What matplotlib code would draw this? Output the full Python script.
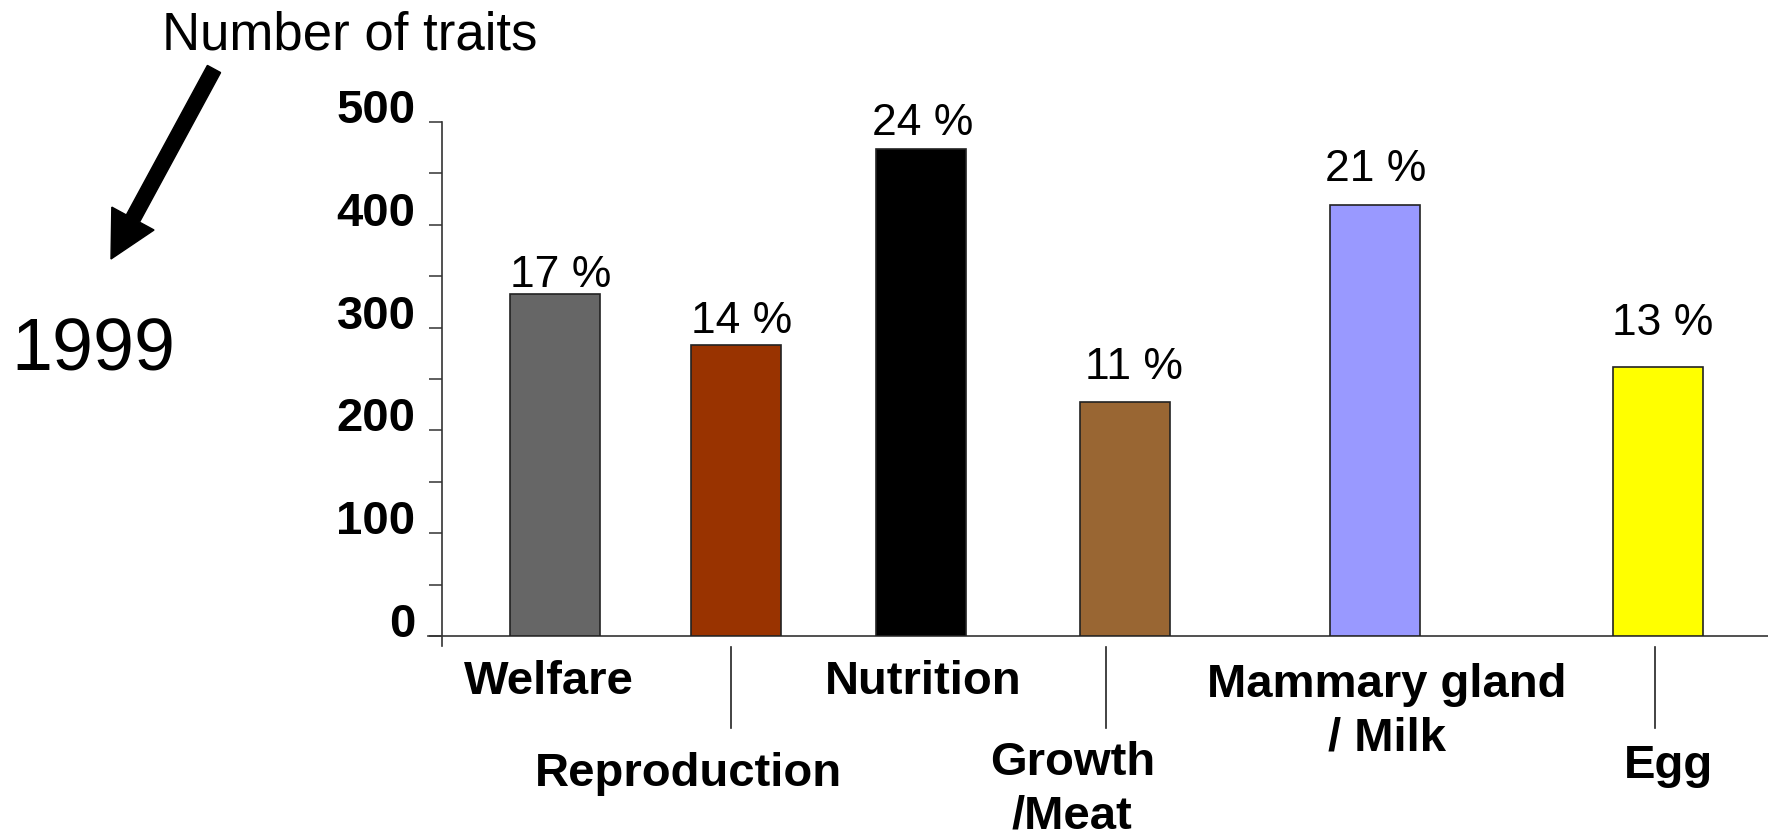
import matplotlib.pyplot as plt
from matplotlib.patches import FancyArrow
from matplotlib.ticker import MultipleLocator

plt.rcParams['font.family'] = ['Liberation Sans', 'DejaVu Sans']

categories = ['Welfare', 'Reproduction', 'Nutrition', 'Growth\n/Meat',
              'Mammary gland\n/ Milk', 'Egg']
traits = [333, 283, 474, 228, 419, 262]
percents = [17, 14, 24, 11, 21, 13]
colors = ['#666666', '#993300', '#000000', '#996633', '#9999ff', '#ffff00']

# layout: bar centres, label centres and label rows (data units)
bar_x = [1.0, 2.605, 4.25, 6.055, 8.275, 10.785]
label_x = [0.95, 2.19, 4.27, 5.59, 8.38, 10.88]
label_y = [-44, -133, -44, -149, -73, -126]
pct_dx = [6, 6, 1, 9, 1, 5]
pct_dy = [19, 25, 26, 35, 37, 44]
sep_x = [2.56, 5.89, 10.76]

fig = plt.figure(figsize=(17.68, 8.37), dpi=100)
ax = fig.add_axes([0.25, 0.239, 0.75, 0.614])

ax.bar(bar_x, traits, width=0.8, color=colors, edgecolor='#222222',
       linewidth=1.2, zorder=3)

for x, v, p, dx, dy in zip(bar_x, traits, percents, pct_dx, pct_dy):
    ax.annotate(f'{p} %', xy=(x, v), xytext=(dx, dy),
                textcoords='offset pixels', ha='center', va='center',
                fontsize=32)

for x, y, c in zip(label_x, label_y, categories):
    ax.text(x, y, c, ha='center', va='center', fontsize=34,
            fontweight='bold', linespacing=1.28, clip_on=False)

for x in sep_x:
    ax.plot([x, x], [-11, -90], color='#222222', lw=1.2, clip_on=False)

ax.set_xlim(0, 11.76)
ax.set_ylim(0, 500)
ax.spines['top'].set_visible(False)
ax.spines['right'].set_visible(False)
ax.spines['left'].set_bounds(-10, 500)
ax.spines['bottom'].set_bounds(-0.12, 11.76)
for s in ('left', 'bottom'):
    ax.spines[s].set_color('#333333')
    ax.spines[s].set_linewidth(1.2)

ax.set_xticks([])
ax.yaxis.set_major_locator(MultipleLocator(100))
ax.yaxis.set_minor_locator(MultipleLocator(50))
ax.tick_params(axis='y', which='both', direction='out', length=9.5,
               width=1.1, color='#333333', pad=9.5)
ax.set_yticks(range(0, 501, 100))
ax.set_yticklabels([str(v) for v in range(0, 501, 100)], fontsize=34,
                   fontweight='bold', va='baseline')

fig.text(0.198, 0.957, 'Number of traits', ha='center', va='center',
         fontsize=38)
fig.text(0.0526, 0.581, '1999', ha='center', va='center', fontsize=53)

arrow = FancyArrow(2.14, 7.67, 1.11 - 2.14, 5.77 - 7.67, width=0.15,
                   head_width=0.48, head_length=0.46,
                   length_includes_head=True, color='black',
                   transform=fig.dpi_scale_trans)
fig.patches.append(arrow)

fig.savefig('out.png', dpi=100)
